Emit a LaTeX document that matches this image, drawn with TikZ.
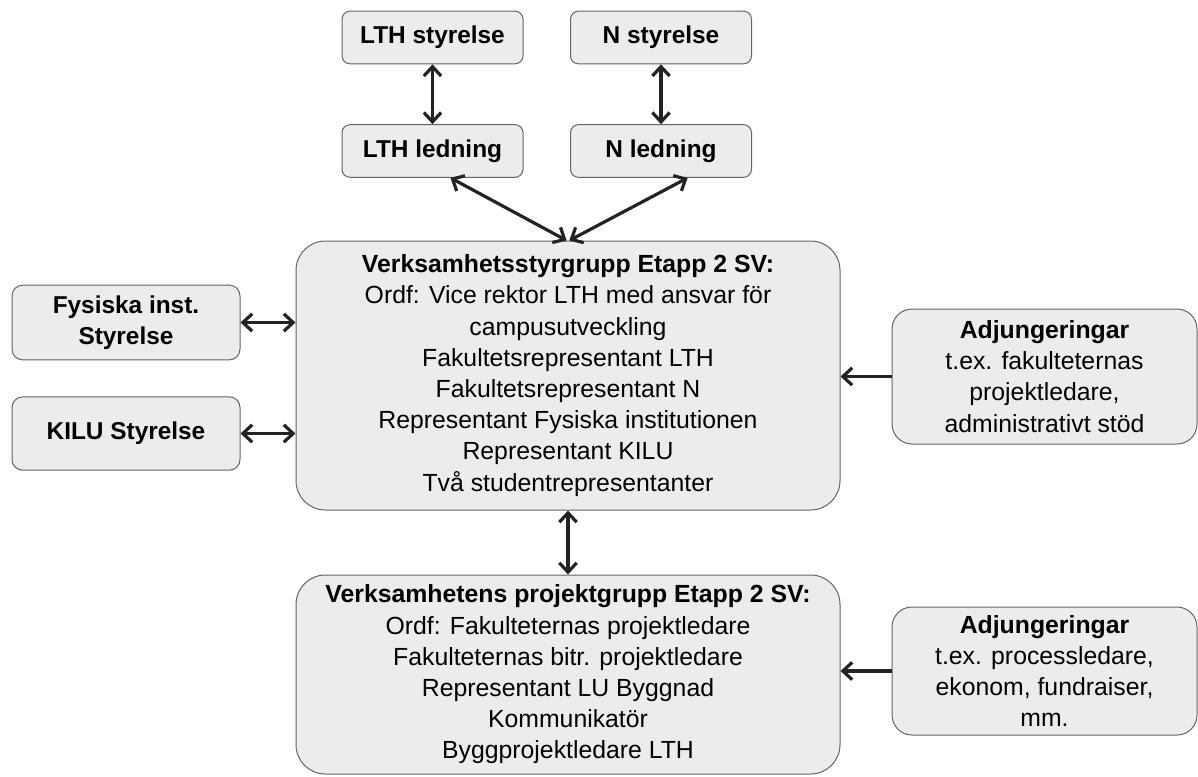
\documentclass[tikz,border=0pt]{standalone}
\usepackage{fontspec}
\setmainfont{Liberation Sans}
\usepackage{tikz}
\usetikzlibrary{arrows.meta, positioning, calc}
\definecolor{boxgray}{RGB}{236, 236, 236}
\definecolor{edgegray}{RGB}{100, 100, 100}
\definecolor{inkgray}{RGB}{35, 35, 35}

\begin{document}
\begin{tikzpicture}[
    x=0.75pt, y=-0.75pt,
    board/.style={rectangle, draw=edgegray, line width=0.75pt, fill=boxgray, rounded corners=6pt, minimum width=135.75pt, minimum height=39.5pt, align=center, inner sep=0pt, font=\fontsize{18.3}{23}\selectfont\bfseries},
    side/.style={board, rounded corners=8pt, minimum width=171pt, minimum height=56pt},
    group/.style={rectangle, draw=edgegray, line width=0.75pt, fill=boxgray, rounded corners=22pt, minimum width=408pt, align=center, inner sep=0pt, font=\fontsize{18.6}{23.4}\selectfont},
    extra/.style={group, rounded corners=15pt, minimum width=228.75pt},
    biarrow/.style={{Straight Barb[length=7pt, width=13pt]}-{Straight Barb[length=7pt, width=13pt]}, line width=2.4pt, draw=inkgray},
    arrow/.style={-{Straight Barb[length=7pt, width=13pt]}, line width=2.4pt, draw=inkgray}
]
    \useasboundingbox (0, 0) rectangle (1198, 776);

    % Faculty boards
    \node[board] (lthboard) at (432.5, 37.5) {LTH styrelse};
    \node[board] (nboard) at (661, 37.5) {N styrelse};
    \node[board] (lthlead) at (432.5, 151) {LTH ledning};
    \node[board] (nlead) at (661, 151) {N ledning};

    % Steering group
    \node[group, minimum height=201.75pt] (steer) at (568, 375.5) {\textbf{Verksamhetsstyrgrupp Etapp 2 SV:}\\Ordf: Vice rektor LTH med ansvar för\\campusutveckling\\Fakultetsrepresentant LTH\\Fakultetsrepresentant N\\Representant Fysiska institutionen\\Representant KILU\\Två studentrepresentanter};

    % Department boards
    \node[side] (fysboard) at (126, 322.5) {Fysiska inst.\\Styrelse};
    \node[side, minimum height=55pt] (kiluboard) at (126, 433.5) {KILU Styrelse};

    % Project group
    \node[group, minimum height=149.25pt] (project) at (568, 674.5) {\textbf{Verksamhetens projektgrupp Etapp 2 SV:}\\Ordf: Fakulteternas projektledare\\Fakulteternas bitr. projektledare\\Representant LU Byggnad\\Kommunikatör\\Byggprojektledare LTH};

    % Co-opted members
    \node[extra, minimum height=101.25pt] (adjsteer) at (1044.5, 376.5) {\textbf{Adjungeringar}\\t.ex. fakulteternas\\projektledare,\\administrativt stöd};
    \node[extra, minimum height=96pt] (adjproject) at (1044.5, 671) {\textbf{Adjungeringar}\\t.ex. processledare,\\ekonom, fundraiser,\\mm.};

    \draw[biarrow] (lthboard) -- (lthlead);
    \draw[biarrow] (nboard) -- (nlead);
    \draw[biarrow] ([xshift=13.5pt]lthlead.south) -- ([xshift=-1pt]steer.north);
    \draw[biarrow] ([xshift=20pt]nlead.south) -- ([xshift=1pt]steer.north);
    \draw[biarrow] (fysboard.east) -- (fysboard.east -| steer.west);
    \draw[biarrow] (kiluboard.east) -- (kiluboard.east -| steer.west);
    \draw[arrow] (adjsteer.west) -- (adjsteer.west -| steer.east);
    \draw[biarrow] (steer) -- (project);
    \draw[arrow] (adjproject.west) -- (adjproject.west -| project.east);

\end{tikzpicture}
\end{document}
